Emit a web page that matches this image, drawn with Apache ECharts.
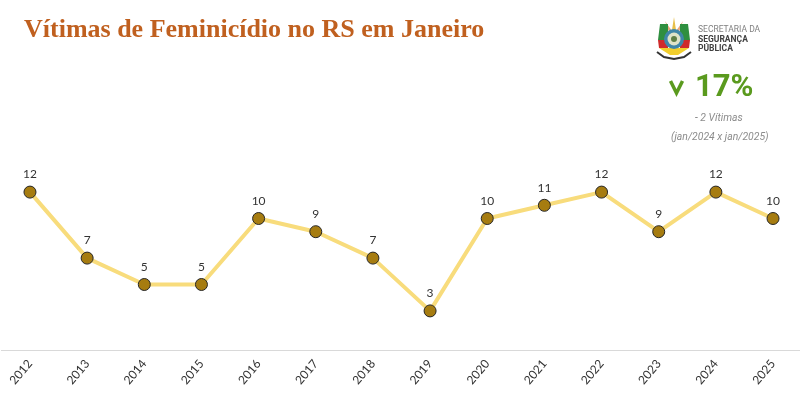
<!DOCTYPE html>
<html>
<head>
<meta charset="utf-8">
<style>
  html, body { margin: 0; padding: 0; background: #fff; }
  #chart { width: 800px; height: 395px; }
</style>
<script src="https://cdn.jsdelivr.net/npm/echarts@6/dist/echarts.min.js"></script>
</head>
<body>
<div id="chart"></div>
<script>
const years = ['2012', '2013', '2014', '2015', '2016', '2017', '2018', '2019', '2020', '2021', '2022', '2023', '2024', '2025'];
const victims = [12, 7, 5, 5, 10, 9, 7, 3, 10, 11, 12, 9, 12, 10];

const chart = echarts.init(document.getElementById('chart'));

// Rough redraw of the state crest next to the logo text
const crest = [
  { type: 'polygon', shape: { points: [[674, 17], [676, 30], [672, 30]] }, style: { fill: '#e8c04a' } },
  { type: 'polygon', shape: { points: [[665, 21], [672, 31], [669, 32]] }, style: { fill: '#e8a77a' } },
  { type: 'polygon', shape: { points: [[683, 21], [676, 31], [679, 32]] }, style: { fill: '#e8a77a' } },
  { type: 'polygon', shape: { points: [[660, 24], [668, 24], [668, 40], [658, 40]] }, style: { fill: '#2f8f3f' } },
  { type: 'polygon', shape: { points: [[680, 24], [688, 24], [690, 40], [680, 40]] }, style: { fill: '#2f8f3f' } },
  { type: 'polygon', shape: { points: [[658, 40], [668, 40], [668, 48], [659, 48]] }, style: { fill: '#cf2a2a' } },
  { type: 'polygon', shape: { points: [[680, 40], [690, 40], [689, 48], [680, 48]] }, style: { fill: '#cf2a2a' } },
  { type: 'polygon', shape: { points: [[659, 48], [689, 48], [678, 55], [670, 55]] }, style: { fill: '#f2cf2e' } },
  { type: 'circle', shape: { cx: 674, cy: 39, r: 10 }, style: { fill: '#3f86a8' } },
  { type: 'circle', shape: { cx: 674, cy: 39, r: 6.5 }, style: { fill: '#dfe3c8' } },
  { type: 'circle', shape: { cx: 674, cy: 39, r: 3 }, style: { fill: '#5f7f46' } },
  { type: 'polyline', shape: { points: [[657, 52], [664, 57], [674, 59], [684, 57], [691, 52]] }, style: { stroke: '#333', lineWidth: 2, fill: 'none' } }
];

chart.setOption({
  animation: false,
  backgroundColor: '#ffffff',
  grid: { left: 1.4, width: 800.2, top: 86.5, height: 264, outerBounds: { left: -50, right: -50, top: 0, bottom: 0 } },
  xAxis: {
    type: 'category',
    data: years,
    boundaryGap: true,
    axisTick: { show: false },
    axisLine: { lineStyle: { color: '#d9d9d9', width: 1 } },
    axisLabel: { rotate: 50, color: '#333333', fontFamily: 'Lato', fontSize: 12, margin: 11, interval: 0 }
  },
  yAxis: { type: 'value', min: 0, max: 20, show: false, splitLine: { show: false } },
  series: [{
    type: 'line',
    data: victims,
    symbol: 'circle',
    symbolSize: 12,
    lineStyle: { color: '#f8dc7c', width: 4 },
    itemStyle: { color: '#a67c10', borderColor: '#262626', borderWidth: 1 },
    label: { show: true, position: 'top', distance: 5, color: '#333333', fontFamily: 'Lato', fontSize: 12 }
  }],
  graphic: [
    { type: 'text', left: 24, top: 17, style: { text: 'Vítimas de Feminicídio no RS em Janeiro', fill: '#c0601f', font: 'bold 26px "Liberation Serif"' } },
    ...crest,
    { type: 'text', left: 698, top: 25, style: { text: 'SECRETARIA DA', fill: '#808080', font: '8.5px Roboto' } },
    { type: 'text', left: 698, top: 35, style: { text: 'SEGURANÇA', fill: '#404040', font: 'bold 8.5px Roboto' } },
    { type: 'text', left: 698, top: 44, style: { text: 'PÚBLICA', fill: '#404040', font: 'bold 8.5px Roboto' } },
    { type: 'polyline', shape: { points: [[670.5, 81], [676.5, 93], [682.5, 81]] }, style: { stroke: '#5a9a1e', lineWidth: 3.5, fill: 'none' } },
    { type: 'text', left: 695, top: 73, style: { text: '17%', fill: '#5a9a1e', font: 'bold 31px Roboto' } },
    { type: 'text', left: 695, top: 113, style: { text: '- 2 Vítimas', fill: '#8c8c8c', font: 'italic 10.4px Roboto' } },
    { type: 'text', left: 671, top: 132, style: { text: '(jan/2024 x jan/2025)', fill: '#8c8c8c', font: 'italic 10.4px Roboto' } }
  ]
});
</script>
</body>
</html>
